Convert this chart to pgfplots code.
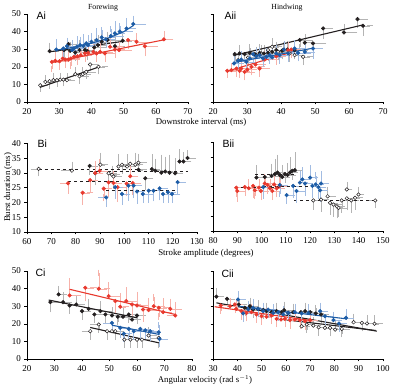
\documentclass[border=0pt]{standalone}
\usepackage{pgfplots}
\pgfplotsset{compat=1.18}
\usepackage{fontspec}
\setmainfont{Liberation Serif}
\newfontfamily\panelfont{Liberation Sans}

\definecolor{dk}{RGB}{35,31,32}
\definecolor{rd}{RGB}{232,57,46}
\definecolor{bl}{RGB}{28,92,166}
\definecolor{gk}{RGB}{180,180,180}
\definecolor{lr}{RGB}{247,178,170}
\definecolor{lb}{RGB}{162,188,226}

\pgfplotsset{
  panel/.style={
    scale only axis, axis x line*=bottom, axis y line*=left,
    tick align=outside, major tick length=2.5pt,
    tick style={black, line width=0.5pt},
    axis line style={line width=0.6pt},
    tick label style={font=\fontsize{9}{10}\selectfont},
    /pgf/number format/assume math mode=true,
    clip=false,
  },
  pts/.style n args={3}{only marks, mark=*, mark size=1.8pt,
    mark options={draw=#1, fill=#2, line width=0.5pt},
    error bars/.cd, x dir=plus, y dir=plus, x explicit, y explicit,
    error bar style={color=#3, line width=0.4pt},
    error mark options={color=#3, mark size=3.2pt, line width=0.6pt}},
  fitl/.style={no marks, line width=1.1pt, color=#1},
  dfit/.style={no marks, dashed, line width=0.8pt, color=dk},
}

\begin{document}
\begin{tikzpicture}[x=1pt,y=1pt]
\useasboundingbox (0,0) rectangle (394,387);

% ---------------- Ai: forewing, burst duration vs downstroke interval
\begin{axis}[panel, at={(27pt,285pt)}, anchor=south west, width=161pt, height=88pt,
  xmin=20, xmax=70, ymin=0, ymax=50, xtick={20,30,...,70}, ytick={0,10,...,50}]
\addplot[pts={dk}{white}{gk}] coordinates {
 (24.1,9.5) +- (1.5,-2) (25.7,11.4) +- (1.5,2) (27,11.8) +- (2,-2.5) (28.2,12.4) +- (1.5,2)
 (29.3,12.4) +- (2,-2) (30.3,12.7) +- (1.5,2) (31.3,12.7) +- (1.5,-2) (32.4,12.4) +- (1.5,2)
 (35,15.8) +- (2,2) (36.3,14.6) +- (2,-2.5) (37.3,15.8) +- (1.5,2) (38.4,17.1) +- (2,-2)
 (39.6,21.3) +- (1.5,-2) (42.2,20) +- (2,-2.5)};
\addplot[fitl=dk] coordinates {(24,8.3) (42.5,20)};
\addplot[pts={dk}{dk}{gk}] coordinates {
 (27,28.9) +- (2,3) (31.5,29.5) +- (2,-3) (32.9,32.9) +- (2,-4) (33.4,29.1) +- (2.5,3)
 (35,28.1) +- (2,-3) (36.3,29.5) +- (2.5,4) (38,29.5) +- (2,3) (38.8,28.9) +- (2,-3)
 (40.9,31) +- (3,3) (42,32.3) +- (2,4) (43.2,34.2) +- (2.5,3) (45,35.2) +- (3,3)
 (47.3,31.7) +- (2,4) (49.7,34.8) +- (3,3)};
\addplot[fitl=dk] coordinates {(27,28.5) (50,34.5)};
\addplot[pts={rd}{rd}{lr}] coordinates {
 (27.7,22.8) +- (2,-4) (28.8,23.4) +- (2,3) (30.1,23.2) +- (2,-3) (31.1,24.7) +- (2,3)
 (31.9,24.1) +- (2,-3) (32.9,24.1) +- (2.5,3) (33.6,24.7) +- (2,-4) (34.6,25.7) +- (2,3)
 (35.7,26) +- (2,-3) (36.7,26.6) +- (2.5,3) (38,27.6) +- (2,-3) (39,27.9) +- (2,3)
 (40.6,28.5) +- (3,3) (41.6,27.6) +- (2,-3) (42.7,28.5) +- (3,3) (44.2,27.6) +- (2,-3)
 (45.8,31.4) +- (3,4) (47.3,29.8) +- (2,-3) (48.6,29.5) +- (3,3) (51.4,35.2) +- (2,-3)
 (54,34.2) +- (3,3) (56.6,31.7) +- (3,-4) (62.5,35.6) +- (2,3)};
\addplot[fitl=rd] coordinates {(28,22.6) (63,35.5)};
\addplot[pts={bl}{bl}{lb}] coordinates {
 (29.1,29.8) +- (2,4) (31.3,30.4) +- (2,-3) (32.4,31.7) +- (2,3) (34,29.5) +- (2,4)
 (34.6,30.4) +- (2.5,-3) (35.5,31.4) +- (2,4) (36.5,32.3) +- (2.5,3) (37.5,31.9) +- (2,5)
 (38.4,33.3) +- (3,-3) (39,32.3) +- (2,4) (40,34.2) +- (3,3) (41.6,35.2) +- (2,5)
 (43.2,36.7) +- (3,4) (44.5,35.6) +- (2,-3) (46,37.5) +- (3,4) (47.3,39) +- (2,5)
 (48.8,40) +- (3,3) (50.9,41.8) +- (2,4) (53,44.3) +- (3,3)};
\addplot[fitl=bl] coordinates {(29,29.4) (35,31.3) (40,33.4) (45,36.1) (50,39.9) (53,43.4)};
\end{axis}

% ---------------- Aii: hindwing
\begin{axis}[panel, at={(213pt,285pt)}, anchor=south west, width=170pt, height=88pt,
  xmin=20, xmax=70, ymin=0, ymax=50, xtick={20,30,...,70}, ytick={0,10,...,50},
  yticklabels={}]
\addplot[pts={dk}{white}{gk}] coordinates {
 (27.4,23.8) +- (2,3) (30.3,25.3) +- (2,-3) (32.7,26.6) +- (2,3) (34.2,27.6) +- (2,3)
 (36.2,29.5) +- (2,-3) (37.4,31.4) +- (2,3) (39.1,28.5) +- (2,-3) (40.6,29.5) +- (2,3)
 (42.5,27.6) +- (2,-3) (44,26.6) +- (2,3) (46.5,25.7) +- (2,-3)};
\addplot[pts={dk}{dk}{gk}] coordinates {
 (26.4,27.2) +- (2,-4) (27.8,27.6) +- (2,3) (29.3,27.2) +- (2,-3) (30.8,27.9) +- (2,3)
 (32.3,27.2) +- (2,-3) (33.7,27.9) +- (2,3) (35,27.6) +- (2,3) (36.2,27.9) +- (2,-3)
 (37.4,28.5) +- (2,3) (38.6,29.5) +- (2,3) (40.3,29.1) +- (3,-3) (41.9,29.8) +- (3,3)
 (44,29.5) +- (3,-3) (45.5,35.2) +- (3,-4) (47,33.7) +- (2,3) (49.4,33.3) +- (3,-4)
 (52.4,41.8) +- (2,-4) (58.5,39.5) +- (3,3) (62.5,47.1) +- (2,-3) (64.1,43.3) +- (2,-4)};
\addplot[fitl=dk] coordinates {(26,26.4) (64.1,43.8)};
\addplot[pts={rd}{rd}{lr}] coordinates {
 (24.2,17.7) +- (2,-2) (25.4,18.1) +- (2,2) (26.9,19) +- (2,-3) (27.8,17.7) +- (2,-2)
 (28.3,19) +- (2,3) (29.3,17.1) +- (2,-3) (30.1,18.4) +- (2,2) (31.3,20) +- (3,-3)
 (32.5,21.3) +- (2,3) (33.7,19) +- (2,-3) (35.2,24.1) +- (3,3) (38.6,26) +- (2,-3)
 (42.1,29.5) +- (2,3) (43,29.8) +- (2,-3)};
\addplot[fitl=rd] coordinates {(24,17.4) (43,28.2)};
\addplot[pts={bl}{bl}{lb}] coordinates {
 (26.2,21.9) +- (2,3) (27.4,23.4) +- (2,-3) (28.3,24.1) +- (2,3) (29.8,22.8) +- (2,-3)
 (30.8,24.7) +- (2,3) (31.8,27.2) +- (2,-3) (32.7,26) +- (2,3) (33.7,26.6) +- (2,3)
 (34.7,24.7) +- (2,-3) (35.7,25.7) +- (2,3) (36.7,26.6) +- (2,-3) (37.4,25.3) +- (2,3)
 (38.6,27.6) +- (2,3) (39.6,26.6) +- (2,-3) (40.9,29.8) +- (2,3) (42.1,27.6) +- (3,-3)
 (44,30.4) +- (2,3) (45,27.9) +- (3,-3) (47,28.5) +- (2,3) (49.4,30.4) +- (2,-4)};
\addplot[fitl=bl] coordinates {(26,22.4) (49.5,30.6)};
\end{axis}

% ---------------- Bi: forewing, burst duration vs stroke amplitude
\begin{axis}[panel, at={(27pt,155pt)}, anchor=south west, width=170pt, height=88.5pt,
  xmin=60, xmax=130, ymin=10, ymax=40, xtick={60,70,...,130}, ytick={10,15,...,40}]
\addplot[pts={dk}{white}{gk}] coordinates {
 (64.8,31.4) +- (-2,-1.5) (78.5,30.8) +- (-3,2) (88.1,29.9) +- (2,-3) (90.2,32.8) +- (2,3)
 (93.6,29.9) +- (2,-3) (95,29.4) +- (2,2) (95.6,28.8) +- (2,-3) (97.7,32.2) +- (2,3)
 (99.1,32.8) +- (2,-2) (101.2,32.2) +- (2,3) (102.5,33.1) +- (2,-3) (104.6,32.8) +- (2,3)
 (105.9,33.5) +- (2,2)};
\addplot[dfit] coordinates {(64.8,31.1) (106,31.1)};
\addplot[pts={dk}{dk}{gk}] coordinates {
 (85.8,32.4) +- (2,-2) (105.9,31.1) +- (2,4) (108.7,28.2) +- (2,-3) (111.4,31.3) +- (2,4)
 (112.8,30.8) +- (2,3) (115.3,30.1) +- (2,5) (116.9,30.5) +- (2,4) (118.7,30.1) +- (2,5)
 (121,29.9) +- (2,4) (122.8,33.9) +- (2,3) (124.4,33.9) +- (2,2) (126.1,35.1) +- (2,1.5)};
\addplot[dfit] coordinates {(85.8,30.6) (126.5,30.6)};
\addplot[pts={rd}{rd}{lr}] coordinates {
 (76.9,26.5) +- (-2,-2.5) (82.9,23.3) +- (3,-3) (86,27.6) +- (2,-3) (88.1,30) +- (2,3)
 (89.9,30.7) +- (2,3) (91.6,24.7) +- (2,-3) (93.6,26.8) +- (2,-4) (95.6,26.6) +- (2,3)
 (97.3,25.2) +- (2,-4) (101,26.4) +- (2,-3) (102.5,28.9) +- (2,3) (103.5,26.6) +- (2,-3)};
\addplot[dfit] coordinates {(77,27.3) (104,27.3)};
\addplot[pts={bl}{bl}{lb}] coordinates {
 (92.6,21.7) +- (-2,-2) (96.3,25.2) +- (2,-3) (99.1,22.9) +- (2,-2.5) (101.8,25.7) +- (2,-4)
 (103.9,25.7) +- (2,-3) (105.3,23.7) +- (2,-3) (107.7,22.9) +- (3,-2) (110.1,24) +- (2,-3)
 (112.1,24) +- (3,-2.5) (114.6,24.8) +- (2,-3) (116,22.9) +- (2,-2) (118,23.5) +- (2,-2.5)
 (119.7,22.9) +- (2,-2) (122,26.9) +- (2,-3)};
\addplot[dfit] coordinates {(92.5,24.1) (122,24.1)};
\end{axis}

% ---------------- Bii: hindwing
\begin{axis}[panel, at={(213pt,156pt)}, anchor=south west, width=170pt, height=89pt,
  xmin=80, xmax=150, ymin=10, ymax=40, xtick={80,90,...,150}, ytick={10,15,...,40},
  yticklabels={}]
\addplot[pts={dk}{white}{gk}] coordinates {
 (121.3,20.3) +- (2,-2) (124.5,20.6) +- (2,-3) (127.2,21.7) +- (2,2) (128.2,19.5) +- (2,-3)
 (129.6,18.9) +- (2,-3) (131,18.3) +- (2,-3) (131.7,17.8) +- (2,-2) (133,20.3) +- (2,-3)
 (135.1,24) +- (1,1.5) (135.1,21) +- (2,-3) (136.9,20.3) +- (2,-3) (138.5,21.2) +- (2,-3)
 (139.9,22.3) +- (1,1.5) (146.8,20.3) +- (-2,-1.5)};
\addplot[dfit] coordinates {(113.5,20.3) (147,20.3)};
\addplot[pts={dk}{dk}{gk}] coordinates {
 (97.9,28) +- (2,3) (101.3,28.2) +- (2,-2) (104.1,28.6) +- (2,3) (105.5,29.2) +- (2,4)
 (106.6,29.7) +- (2,5) (107.5,28.9) +- (2,-3) (108.5,28.2) +- (2,3) (109.6,29.2) +- (2,-2)
 (110.7,28.9) +- (2,3) (111.7,29.7) +- (2,4) (112.6,30.3) +- (2,-2) (113.7,30.5) +- (2,5)};
\addplot[dfit] coordinates {(97.5,29) (114,29)};
\addplot[pts={rd}{rd}{lr}] coordinates {
 (89.6,24.6) +- (2,-2) (90,23.5) +- (2,-2.5) (93.1,24.8) +- (2,-2) (94.7,24.4) +- (2,2)
 (96.5,25.2) +- (2,-3) (97.2,23.7) +- (2,-2) (98.9,24.6) +- (2,2) (99.7,23.5) +- (2,-2)
 (101.3,26) +- (2,2) (102.5,25.5) +- (2,-2) (103.4,24.4) +- (2,2) (104.4,23.5) +- (2,-2)
 (105.2,25.7) +- (2,2) (106.2,24.4) +- (2,-2) (107.5,25.2) +- (2,2)};
\addplot[dfit] coordinates {(89,24.8) (107.5,24.8)};
\addplot[pts={bl}{bl}{lb}] coordinates {
 (100.7,24.8) +- (2,-3) (107.5,25.5) +- (2,-3) (110.3,22.1) +- (2,-2) (113,25.2) +- (2,-3)
 (114.4,23.5) +- (2,-3) (115.8,26.3) +- (2,3) (116.8,27.4) +- (2,3) (117.9,26) +- (2,-3)
 (120,28) +- (2,3) (120.9,25.2) +- (2,-3) (122.3,25.7) +- (2,3) (123.4,24.8) +- (2,-3)
 (124.1,23.7) +- (2,-3) (124.5,26) +- (2,3)};
\addplot[dfit] coordinates {(100.5,25.2) (124.5,25.2)};
\end{axis}

% ---------------- Ci: forewing, burst duration vs angular velocity
\begin{axis}[panel, at={(27pt,28pt)}, anchor=south west, width=165pt, height=88pt,
  xmin=20, xmax=80, ymin=0, ymax=50, xtick={20,30,...,80}, ytick={0,10,...,50}]
\addplot[pts={dk}{white}{gk}] coordinates {
 (43,15.8) +- (-2,-3) (46.1,19.6) +- (-2,-3) (49.1,15.8) +- (2,-3) (50.9,15.8) +- (2,3)
 (52.1,15.8) +- (2,-3) (55.4,11) +- (2,-3) (57.6,11) +- (2,-3) (60,11) +- (2,-3)
 (61.8,11) +- (2,-3) (64.2,13.3) +- (2,3) (67.9,12) +- (-2,-4)};
\addplot[fitl=dk] coordinates {(43,17.9) (67.9,9.2)};
\addplot[pts={dk}{dk}{gk}] coordinates {
 (28.5,32.3) +- (2,-4) (31.5,36.7) +- (2,3) (33.1,32.3) +- (2,4) (35.5,30.4) +- (2,-3)
 (37.9,31) +- (2,3) (40,27.2) +- (2,-3) (42.4,28.5) +- (3,4) (44.5,25.3) +- (2,-3)
 (46.7,27.2) +- (3,4) (48.5,25.3) +- (2,-3) (50.9,24.7) +- (3,3) (53,24) +- (2,-3)
 (54.9,24) +- (3,4) (57,25.3) +- (2,-3) (58.2,22.4) +- (2,4) (60,24.7) +- (2,-3)};
\addplot[fitl=dk] coordinates {(27.9,33.5) (60,23.4)};
\addplot[pts={rd}{rd}{lr}] coordinates {
 (35.5,36.1) +- (3,8) (41.2,40.5) +- (3,-6) (46.1,39.9) +- (3,9) (49.7,35.7) +- (3,6)
 (52.1,32.9) +- (3,-5) (53.9,29.7) +- (2,6) (56.1,32.9) +- (3,6) (58.2,31) +- (2,-5)
 (60,30.4) +- (3,6) (62.2,28.1) +- (3,-5) (64.2,27.8) +- (2,5) (66.1,30) +- (3,5)
 (67.9,29.1) +- (3,-5) (69.5,26.6) +- (2,6) (72.1,28.5) +- (3,4) (73.9,24.7) +- (-2,6)};
\addplot[fitl=rd] coordinates {(35.5,39.6) (73.9,25.3)};
\addplot[pts={bl}{bl}{lb}] coordinates {
 (50.9,20.5) +- (-2,-3) (53.9,17.7) +- (2,-4) (55.2,14.4) +- (2,-3) (57,17.1) +- (2,-4)
 (58.8,15.8) +- (2,-3) (61.2,17.1) +- (2,-4) (63,16.3) +- (2,-3) (64.8,15.8) +- (2,-4)
 (67.9,15.2) +- (-2,4) (68.2,11.4) +- (2,-3)};
\addplot[fitl=bl] coordinates {(50.9,19.2) (68.2,13.9)};
\end{axis}

% ---------------- Cii: hindwing
\begin{axis}[panel, at={(213pt,28pt)}, anchor=south west, width=170pt, height=88pt,
  xmin=30, xmax=100, ymin=0, ymax=50, xtick={30,40,...,100}, ytick={0,10,...,50},
  yticklabels={}]
\addplot[pts={dk}{white}{gk}] coordinates {
 (66.5,18.6) +- (2,3) (68.6,19.6) +- (2,-3) (71.3,19) +- (2,3) (73.5,18) +- (2,-3)
 (76.1,17.7) +- (2,3) (78.2,17.7) +- (2,-3) (80.3,16.7) +- (2,3) (83,17.1) +- (2,-3)
 (87.9,20.9) +- (2,3) (91.3,20.5) +- (2,-3) (93.4,20.2) +- (2,3) (96.5,20) +- (2,3)};
\addplot[fitl=dk] coordinates {(58,22.6) (97,16.2)};
\addplot[pts={dk}{dk}{gk}] coordinates {
 (31.4,35.4) +- (2,3) (35.8,34.2) +- (2,-3) (40.6,31) +- (2,3) (43.1,29.1) +- (2,-3)
 (45.2,30) +- (2,3) (46.5,28.1) +- (2,-3) (48.6,28.5) +- (2,3) (50.7,27.8) +- (2,-3)
 (52,27.2) +- (2,3) (54.1,26.6) +- (2,-3) (56.2,27.2) +- (2,3) (58.2,26.6) +- (2,-3)
 (59.3,27.8) +- (2,3) (61,26.2) +- (2,-3) (63,26.6) +- (2,3) (66.2,26.6) +- (2,-3)
 (67.9,27.2) +- (2,3) (70,26.6) +- (2,-3) (72.3,25.9) +- (2,3) (74.5,25.3) +- (2,-3)};
\addplot[fitl=dk] coordinates {(31.4,31.9) (97.5,15.8)};
\addplot[pts={rd}{rd}{lr}] coordinates {
 (33.2,30.4) +- (2,-3) (37,30) +- (2,3) (39,31) +- (2,-3) (39.6,28.5) +- (2,3)
 (41.7,27.2) +- (2,-3) (43.8,26.2) +- (2,-3) (45.8,26.6) +- (2,3) (47.9,25.3) +- (2,-3)
 (50,24.3) +- (2,-3) (52,24) +- (2,3) (54.1,24.7) +- (2,-3) (56.2,22.8) +- (2,-3)
 (58,22.4) +- (2,3) (59.6,22.8) +- (2,-3) (61.7,22.1) +- (2,-3) (63.7,22.4) +- (2,3)
 (65.8,22.1) +- (2,-3) (67.9,21.5) +- (2,-3) (70,22.1) +- (2,3)};
\addplot[fitl=rd] coordinates {(30.7,29.7) (70,21.9)};
\addplot[pts={bl}{bl}{lb}] coordinates {
 (40.3,33.8) +- (2,3) (42.4,25.9) +- (2,-3) (44.5,28.1) +- (2,3) (46.5,29.1) +- (2,3)
 (48.6,28.5) +- (2,-3) (50.7,27.2) +- (2,3) (52.7,28.1) +- (2,-3) (54.8,26.2) +- (2,3)
 (56.9,26.6) +- (2,-3) (58.9,25.3) +- (2,3) (61,26.2) +- (2,-3) (63.7,26.6) +- (2,3)
 (66.5,25.9) +- (2,-3) (69.3,26.2) +- (2,3) (74.1,27.2) +- (2,3) (76.1,24.3) +- (2,-3)
 (79.6,22.1) +- (2,3) (81.9,20.2) +- (2,-3) (84.8,23.4) +- (2,3)};
\addplot[fitl=bl] coordinates {(40.3,30) (85.1,22.8)};
\end{axis}

% ---------------- titles, axis labels and panel letters
\node[anchor=base, font=\fontsize{7.8}{9}\selectfont] at (103,377) {Forewing};
\node[anchor=base, font=\fontsize{7.8}{9}\selectfont] at (287,377) {Hindwing};
\node[anchor=base, font=\fontsize{8.8}{10}\selectfont] at (201,262) {Downstroke interval (ms)};
\node[anchor=base, font=\fontsize{8.8}{10}\selectfont] at (206,131) {Stroke amplitude (degrees)};
\node[anchor=base, font=\fontsize{8.8}{10}\selectfont] at (205,4) {Angular velocity (rad s$^{-1}$)};
\node[anchor=base, rotate=90, font=\fontsize{8.8}{10}\selectfont] at (10,199.5) {Burst duration (ms)};

\node[anchor=base west, font=\panelfont\fontsize{10.5}{12}\selectfont] at (33,367.5) {Ai};
\node[anchor=base west, font=\panelfont\fontsize{10.5}{12}\selectfont] at (221,367.5) {Aii};
\node[anchor=base west, font=\panelfont\fontsize{10.5}{12}\selectfont] at (34,239) {Bi};
\node[anchor=base west, font=\panelfont\fontsize{10.5}{12}\selectfont] at (219,239) {Bii};
\node[anchor=base west, font=\panelfont\fontsize{10.5}{12}\selectfont] at (32,110) {Ci};
\node[anchor=base west, font=\panelfont\fontsize{10.5}{12}\selectfont] at (218,109) {Cii};
\end{tikzpicture}
\end{document}
